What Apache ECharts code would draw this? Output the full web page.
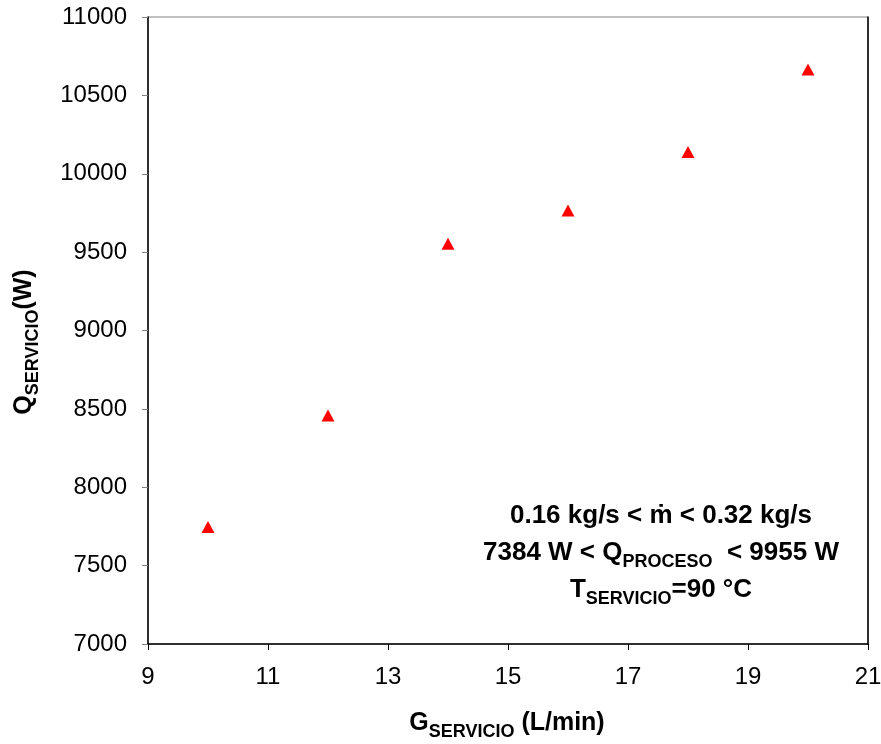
<!DOCTYPE html>
<html><head><meta charset="utf-8">
<script src="https://cdn.jsdelivr.net/npm/echarts@6/dist/echarts.min.js"></script>
<style>html,body{margin:0;padding:0;background:#fff}#c{width:881px;height:744px}</style>
</head><body><div id="c"></div>
<script>
const gServicio = [10, 12, 14, 16, 18, 20];
const qServicio = [7746, 8458, 9553, 9766, 10139, 10665];
const xTicks = [9, 11, 13, 15, 17, 19, 21];
const yTicks = [7000, 7500, 8000, 8500, 9000, 9500, 10000, 10500, 11000];

const F = '"Liberation Sans", Arial, sans-serif';
const chart = echarts.init(document.getElementById('c'));
function richSet(mainSize, subSize, lh) {
  return {
    m: {fontSize: mainSize, fontWeight: 'bold', fontFamily: F, color: '#000', verticalAlign: 'bottom', lineHeight: lh, padding: [0, 0, 5, 0]},
    s: {fontSize: subSize, fontWeight: 'bold', fontFamily: F, color: '#000', verticalAlign: 'bottom', lineHeight: subSize}
  };
}
chart.setOption({
  animation: false,
  grid: {left: 148, right: 13, top: 17, bottom: 100, show: true, borderColor: '#808080', borderWidth: 1, outerBoundsMode: 'none', containLabel: false},
  xAxis: {
    type: 'value', min: xTicks[0], max: xTicks[xTicks.length-1], interval: 2,
    axisLine: {show: true, lineStyle: {color: '#000', width: 1.5}},
    axisTick: {show: true, inside: false, length: 6, lineStyle: {color: '#000'}},
    splitLine: {show: false},
    axisLabel: {fontSize: 24, fontFamily: F, color: '#000', margin: 21, formatter: v => String(v)}
  },
  yAxis: [{
    type: 'value', min: yTicks[0], max: yTicks[yTicks.length-1], interval: 500,
    axisLine: {show: true, lineStyle: {color: '#000', width: 1.5}},
    axisTick: {show: true, inside: false, length: 6, lineStyle: {color: '#808080'}},
    splitLine: {show: false},
    axisLabel: {fontSize: 24, fontFamily: F, color: '#000', margin: 21, formatter: v => String(v)}
  }, {
    type: 'value', position: 'right', min: yTicks[0], max: yTicks[yTicks.length-1], interval: 500,
    axisLine: {show: true, lineStyle: {color: '#000', width: 1.5}},
    axisTick: {show: false}, axisLabel: {show: false}, splitLine: {show: false}
  }],
  series: [{
    type: 'scatter', symbol: 'triangle', symbolSize: [13, 12],
    itemStyle: {color: '#ff0000', opacity: 1},
    data: gServicio.map((g, i) => [g, qServicio[i]])
  }],
  graphic: [{
    type: 'text', x: 507, y: 727,
    style: {text: '{m|G}{s|SERVICIO}{m| (L/min)}', align: 'center', verticalAlign: 'middle', rich: richSet(25, 18, 28)}
  }, {
    type: 'text', x: 28, y: 342, rotation: Math.PI / 2,
    style: {text: '{m|Q}{s|SERVICIO}{m|(W)}', align: 'center', verticalAlign: 'middle', rich: richSet(25, 18, 28)}
  }, {
    type: 'text', x: 661, y: 497,
    style: {
      text: '{m|0.16 kg/s < ṁ < 0.32 kg/s}\n{m|7384 W < Q}{s|PROCESO}{m|  < 9955 W}\n{m|T}{s|SERVICIO}{m|=90 °C}',
      align: 'center', verticalAlign: 'top',
      rich: richSet(26, 18, 37)
    }
  }]
});
</script></body></html>
